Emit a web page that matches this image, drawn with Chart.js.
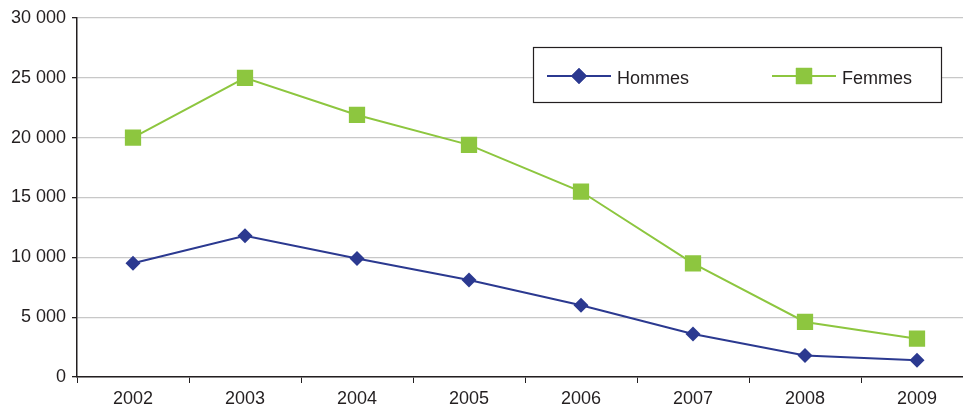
<!DOCTYPE html>
<html>
<head>
<meta charset="utf-8">
<script src="https://cdn.jsdelivr.net/npm/chart.js@4/dist/chart.umd.min.js"></script>
<style>
    html, body { margin: 0; padding: 0; background: #fff; overflow: hidden; }
    #myChart { display: block; }
</style>
</head>
<body>
<canvas id="myChart" width="973" height="405"></canvas>
<script>
// Data
const years = ['2002', '2003', '2004', '2005', '2006', '2007', '2008', '2009'];
const hommes = [9500, 11800, 9900, 8100, 6000, 3600, 1800, 1400];
const femmes = [20000, 25000, 21900, 19400, 15500, 9500, 4600, 3200];
const yTicks = [0, 5000, 10000, 15000, 20000, 25000, 30000];

const blue = '#2b3990';
const green = '#8dc63f';
const textColor = '#231f20';
const fontFamily = '"Liberation Sans", Arial, sans-serif';

// thousands with a space, like "25 000"
const formatNumber = value => String(value).replace(/\B(?=(\d{3})+(?!\d))/g, ' ');

// Legend drawn as a framed box inside the plot
const boxLegend = {
    id: 'boxLegend',
    afterDraw(chart) {
        const c = chart.ctx;
        c.save();
        c.fillStyle = '#fff';
        c.fillRect(533, 47, 408, 55);
        c.strokeStyle = '#231f20';
        c.lineWidth = 1.2;
        c.strokeRect(533.5, 47.5, 408, 55);

        const items = [
            { label: 'Hommes', color: blue, style: 'rectRot', radius: 8, x: 547 },
            { label: 'Femmes', color: green, style: 'rect', radius: 11.5, x: 772 }
        ];
        items.forEach(item => {
            const y = 76;
            c.strokeStyle = item.color;
            c.lineWidth = 2;
            c.beginPath();
            c.moveTo(item.x, y);
            c.lineTo(item.x + 64, y);
            c.stroke();
            c.fillStyle = item.color;
            Chart.helpers.drawPoint(c, { pointStyle: item.style, radius: item.radius, borderWidth: 0 }, item.x + 32, y);
            c.fill();
            c.fillStyle = textColor;
            c.font = '18px ' + fontFamily;
            c.textBaseline = 'middle';
            c.fillText(item.label, item.x + 70, y + 3);
        });
        c.restore();
    }
};

const ctx = document.getElementById('myChart');

new Chart(ctx, {
    type: 'line',
    data: {
        labels: years,
        datasets: [{
            label: 'Hommes',
            data: hommes,
            borderColor: blue,
            backgroundColor: blue,
            borderWidth: 2,
            pointStyle: 'rectRot',
            pointRadius: 7.5,
            pointBorderWidth: 0,
            tension: 0
        }, {
            label: 'Femmes',
            data: femmes,
            borderColor: green,
            backgroundColor: green,
            borderWidth: 2,
            pointStyle: 'rect',
            pointRadius: 11.5,
            pointBorderWidth: 0,
            tension: 0
        }]
    },
    options: {
        responsive: false,
        animation: false,
        layout: {
            autoPadding: false,
            padding: { left: 0, right: 0, top: 18, bottom: 0 }
        },
        plugins: {
            legend: { display: false },
            tooltip: { enabled: false }
        },
        scales: {
            x: {
                offset: true,
                grid: {
                    offset: true,
                    drawOnChartArea: false,
                    tickLength: 6,
                    tickColor: '#231f20'
                },
                border: { color: '#231f20', width: 1.5 },
                ticks: {
                    color: textColor,
                    font: { family: fontFamily, size: 18 },
                    padding: 5,
                    maxRotation: 0
                },
                afterFit: scale => {
                    scale.height = 28;
                    scale.paddingLeft = 0;
                    scale.paddingRight = 0;
                }
            },
            y: {
                min: 0,
                max: 30000,
                afterBuildTicks: scale => {
                    scale.ticks = yTicks.map(v => ({ value: v }));
                },
                grid: {
                    color: '#c8c8c8',
                    lineWidth: 1.3,
                    tickLength: 5,
                    tickColor: '#231f20'
                },
                border: { color: '#231f20', width: 1.5 },
                ticks: {
                    color: textColor,
                    font: { family: fontFamily, size: 18 },
                    padding: 6,
                    callback: value => formatNumber(value)
                },
                afterFit: scale => { scale.width = 77; }
            }
        }
    },
    plugins: [boxLegend]
});
</script>
</body>
</html>
